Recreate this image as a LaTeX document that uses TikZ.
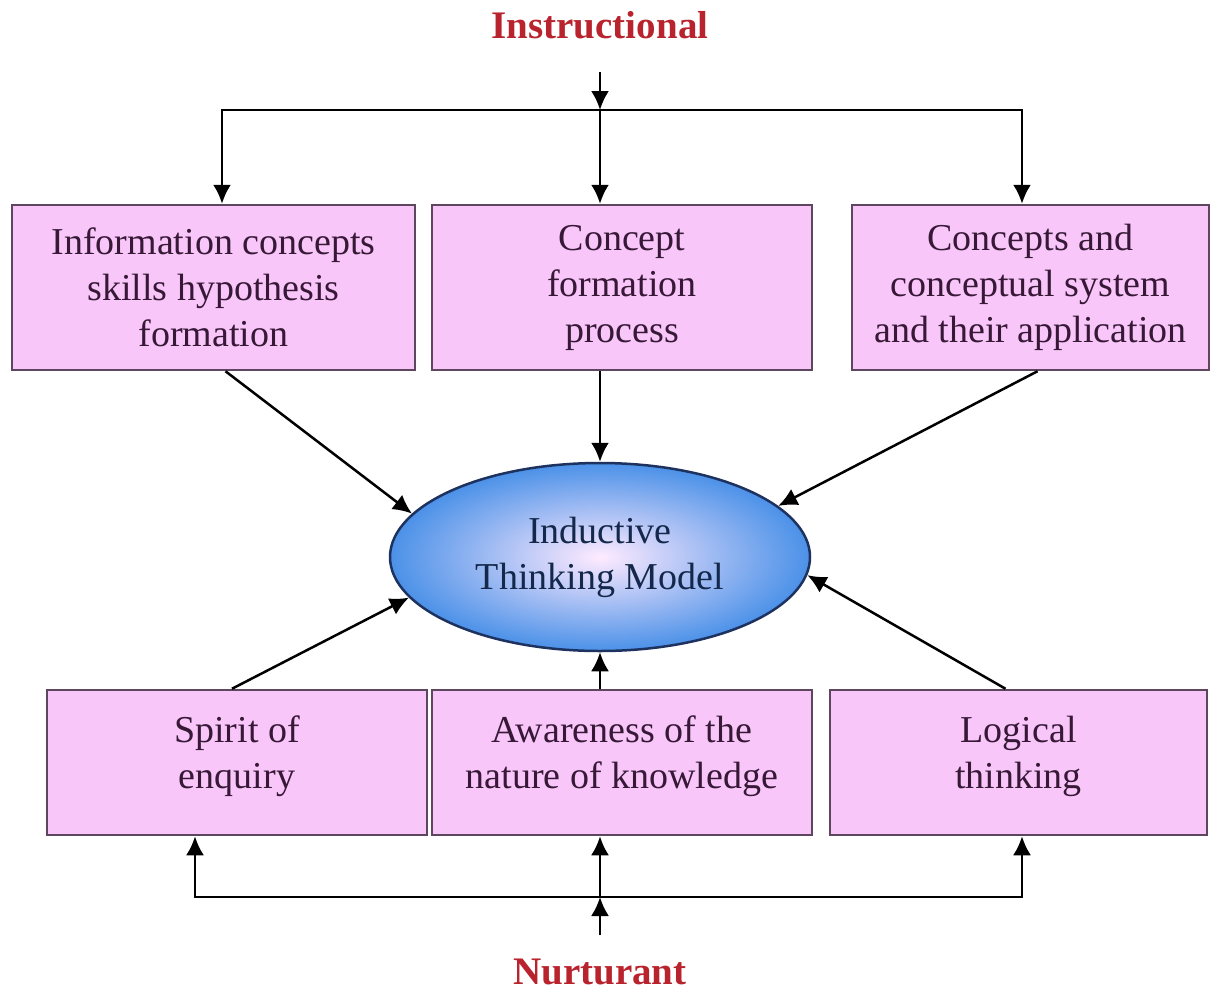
\documentclass[tikz,border=0pt]{standalone}
\usepackage{fontspec}
\setmainfont{Liberation Serif}
\usetikzlibrary{shapes.geometric,arrows.meta}

\definecolor{boxpink}{RGB}{248,198,248}
\definecolor{boxline}{RGB}{95,70,95}
\definecolor{boxtext}{RGB}{55,25,55}
\definecolor{headred}{RGB}{185,35,45}
\definecolor{ovalblue}{RGB}{75,145,232}
\definecolor{ovalline}{RGB}{30,50,95}
\definecolor{ovaltext}{RGB}{20,40,75}

\tikzset{every picture/.style={line width=2.5pt}}
\tikzset{
  conceptbox/.style={draw=boxline,fill=boxpink,text=boxtext,align=center,
    inner sep=0pt,font=\fontsize{38}{46}\selectfont},
  headlabel/.style={text=headred,font=\fontsize{39}{46}\selectfont\bfseries},
  arr/.style={-{Latex[length=19pt,width=18pt]},draw=black}
}

\begin{document}
\begin{tikzpicture}[x=1pt,y=1pt,yscale=-1,xscale=1]
\useasboundingbox (0,0) rectangle (1211,994);

%Labels
\node[headlabel] (ins) at (600,25) {Instructional};
\node[headlabel] (nur) at (600,972) {Nurturant};

%Top row
\node[conceptbox,minimum width=403,minimum height=165] (tl) at (213.5,287.5)
  {Information concepts\\skills hypothesis\\formation};
\node[conceptbox,minimum width=380,minimum height=165] (tm) at (622,287.5)
  {Concept\\formation\\process};
\node[conceptbox,minimum width=357,minimum height=165] (tr) at (1030.5,287.5)
  {Concepts and\\conceptual system\\and their application};

%Centre oval
\node[ellipse,draw=ovalline,shading=radial,inner color=white!92!magenta,
  outer color=ovalblue,minimum width=420,minimum height=188,inner sep=0pt,
  text=ovaltext,align=center,font=\fontsize{38}{46}\selectfont] (itm) at (600,557)
  {Inductive\\Thinking Model};

%Bottom row
\node[conceptbox,minimum width=380,minimum height=145] (bl) at (237,762.5)
  {Spirit of\\enquiry\\[-26pt]};
\node[conceptbox,minimum width=380,minimum height=145] (bm) at (622,762.5)
  {Awareness of the\\nature of knowledge\\[-26pt]};
\node[conceptbox,minimum width=377,minimum height=145] (br) at (1018.5,762.5)
  {Logical\\thinking\\[-26pt]};

%Instructional branch
\coordinate (insTop) at (600,72);
\coordinate (junT) at (600,110);
\draw[arr] (insTop) -- (junT);
\draw[arr] (junT) -| ([xshift=8.5pt]tl.north);
\draw[arr] (junT) -- (junT |- tm.north);
\draw[arr] (junT) -| ([xshift=-8.5pt]tr.north);

%Into the oval
\draw[arr] ([xshift=12pt]tl.south) -- (itm.167);
\draw[arr] (itm.north |- tm.south) -- (itm.north);
\draw[arr] ([xshift=7pt]tr.south) -- (itm.16);
\draw[arr] ([xshift=-5pt]bl.north) -- (itm.192);
\draw[arr] (itm.south |- bm.north) -- (itm.south);
\draw[arr] ([xshift=-13pt]br.north) -- (itm.355);

%Nurturant branch
\coordinate (nurBot) at (600,935);
\coordinate (junB) at (600,897);
\draw[arr] (nurBot) -- (junB);
\draw[arr] (junB) -| ([xshift=-42pt]bl.south);
\draw[arr] (junB) -- (junB |- bm.south);
\draw[arr] (junB) -| ([xshift=3.5pt]br.south);
\end{tikzpicture}
\end{document}
